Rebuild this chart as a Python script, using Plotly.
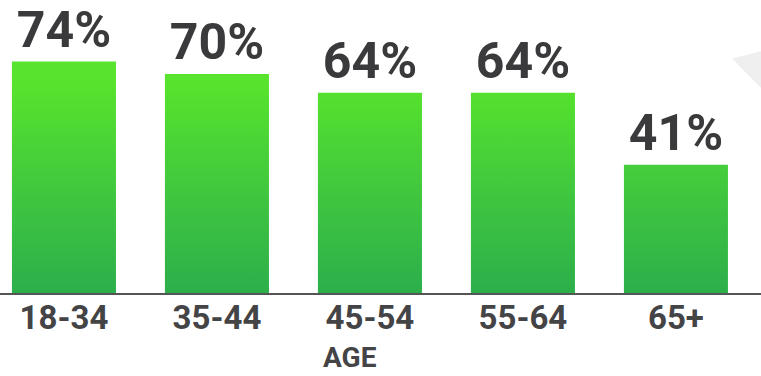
import plotly.graph_objects as go

categories = ["18-34", "35-44", "45-54", "55-64", "65+"]
values = [74, 70, 64, 64, 41]
labels = ["74%", "70%", "64%", "64%", "41%"]
axis_title = "AGE"

BAR_W = 0.68
BRIGHT = "#58e42c"
DARK = "#2caf4b"
TEXT = "#3a3a3c"

fig = go.Figure()

# gradient-filled bars built from the values
for i, v in enumerate(values):
    x0, x1 = i - BAR_W / 2, i + BAR_W / 2
    fig.add_trace(go.Scatter(
        x=[x0, x1, x1, x0, x0], y=[0, 0, v, v, 0],
        mode="lines", line=dict(width=0), fill="toself",
        fillgradient=dict(type="vertical",
                          colorscale=[[0, DARK], [0.45, "#3fc63f"], [1, BRIGHT]],
                          start=0, stop=68),
        hoverinfo="skip", showlegend=False,
    ))

# transparent bars carrying the value labels
fig.add_trace(go.Bar(
    x=list(range(len(categories))), y=values, width=BAR_W,
    marker=dict(color="rgba(0,0,0,0)", line=dict(width=0)),
    text=labels, textposition="outside", cliponaxis=False,
    textfont=dict(family="Roboto", size=50, color=TEXT, weight="bold"),
    hoverinfo="skip", showlegend=False,
))

fig.update_layout(
    width=761, height=376,
    margin=dict(l=0, r=0, t=0, b=83),
    paper_bgcolor="white", plot_bgcolor="white",
    xaxis=dict(
        range=[-0.418, 4.556],
        tickvals=list(range(len(categories))), ticktext=categories,
        showgrid=False, zeroline=False,
        showline=True, linecolor="#555555", linewidth=2,
        ticks="", ticklabelstandoff=-6,
        tickfont=dict(family="Roboto", size=33, color="#444446", weight="bold"),
    ),
    yaxis=dict(range=[0, 93.7], visible=False, showgrid=False, zeroline=False),
    annotations=[dict(
        text=axis_title, xref="paper", yref="paper",
        x=350 / 761, y=-0.281, xanchor="center", yanchor="bottom",
        showarrow=False, borderpad=0,
        font=dict(family="Roboto", size=28, color="#444446", weight="bold"),
    )],
    shapes=[dict(
        type="path", xref="paper", yref="paper", layer="below",
        path="M 0.962,0.80 L 1,0.825 L 1,0.70 Z",
        fillcolor="#efefef", line=dict(width=0),
    )],
)

fig.write_html("out.html", config={"displayModeBar": False},
               post_script="document.body.style.margin='0';")
